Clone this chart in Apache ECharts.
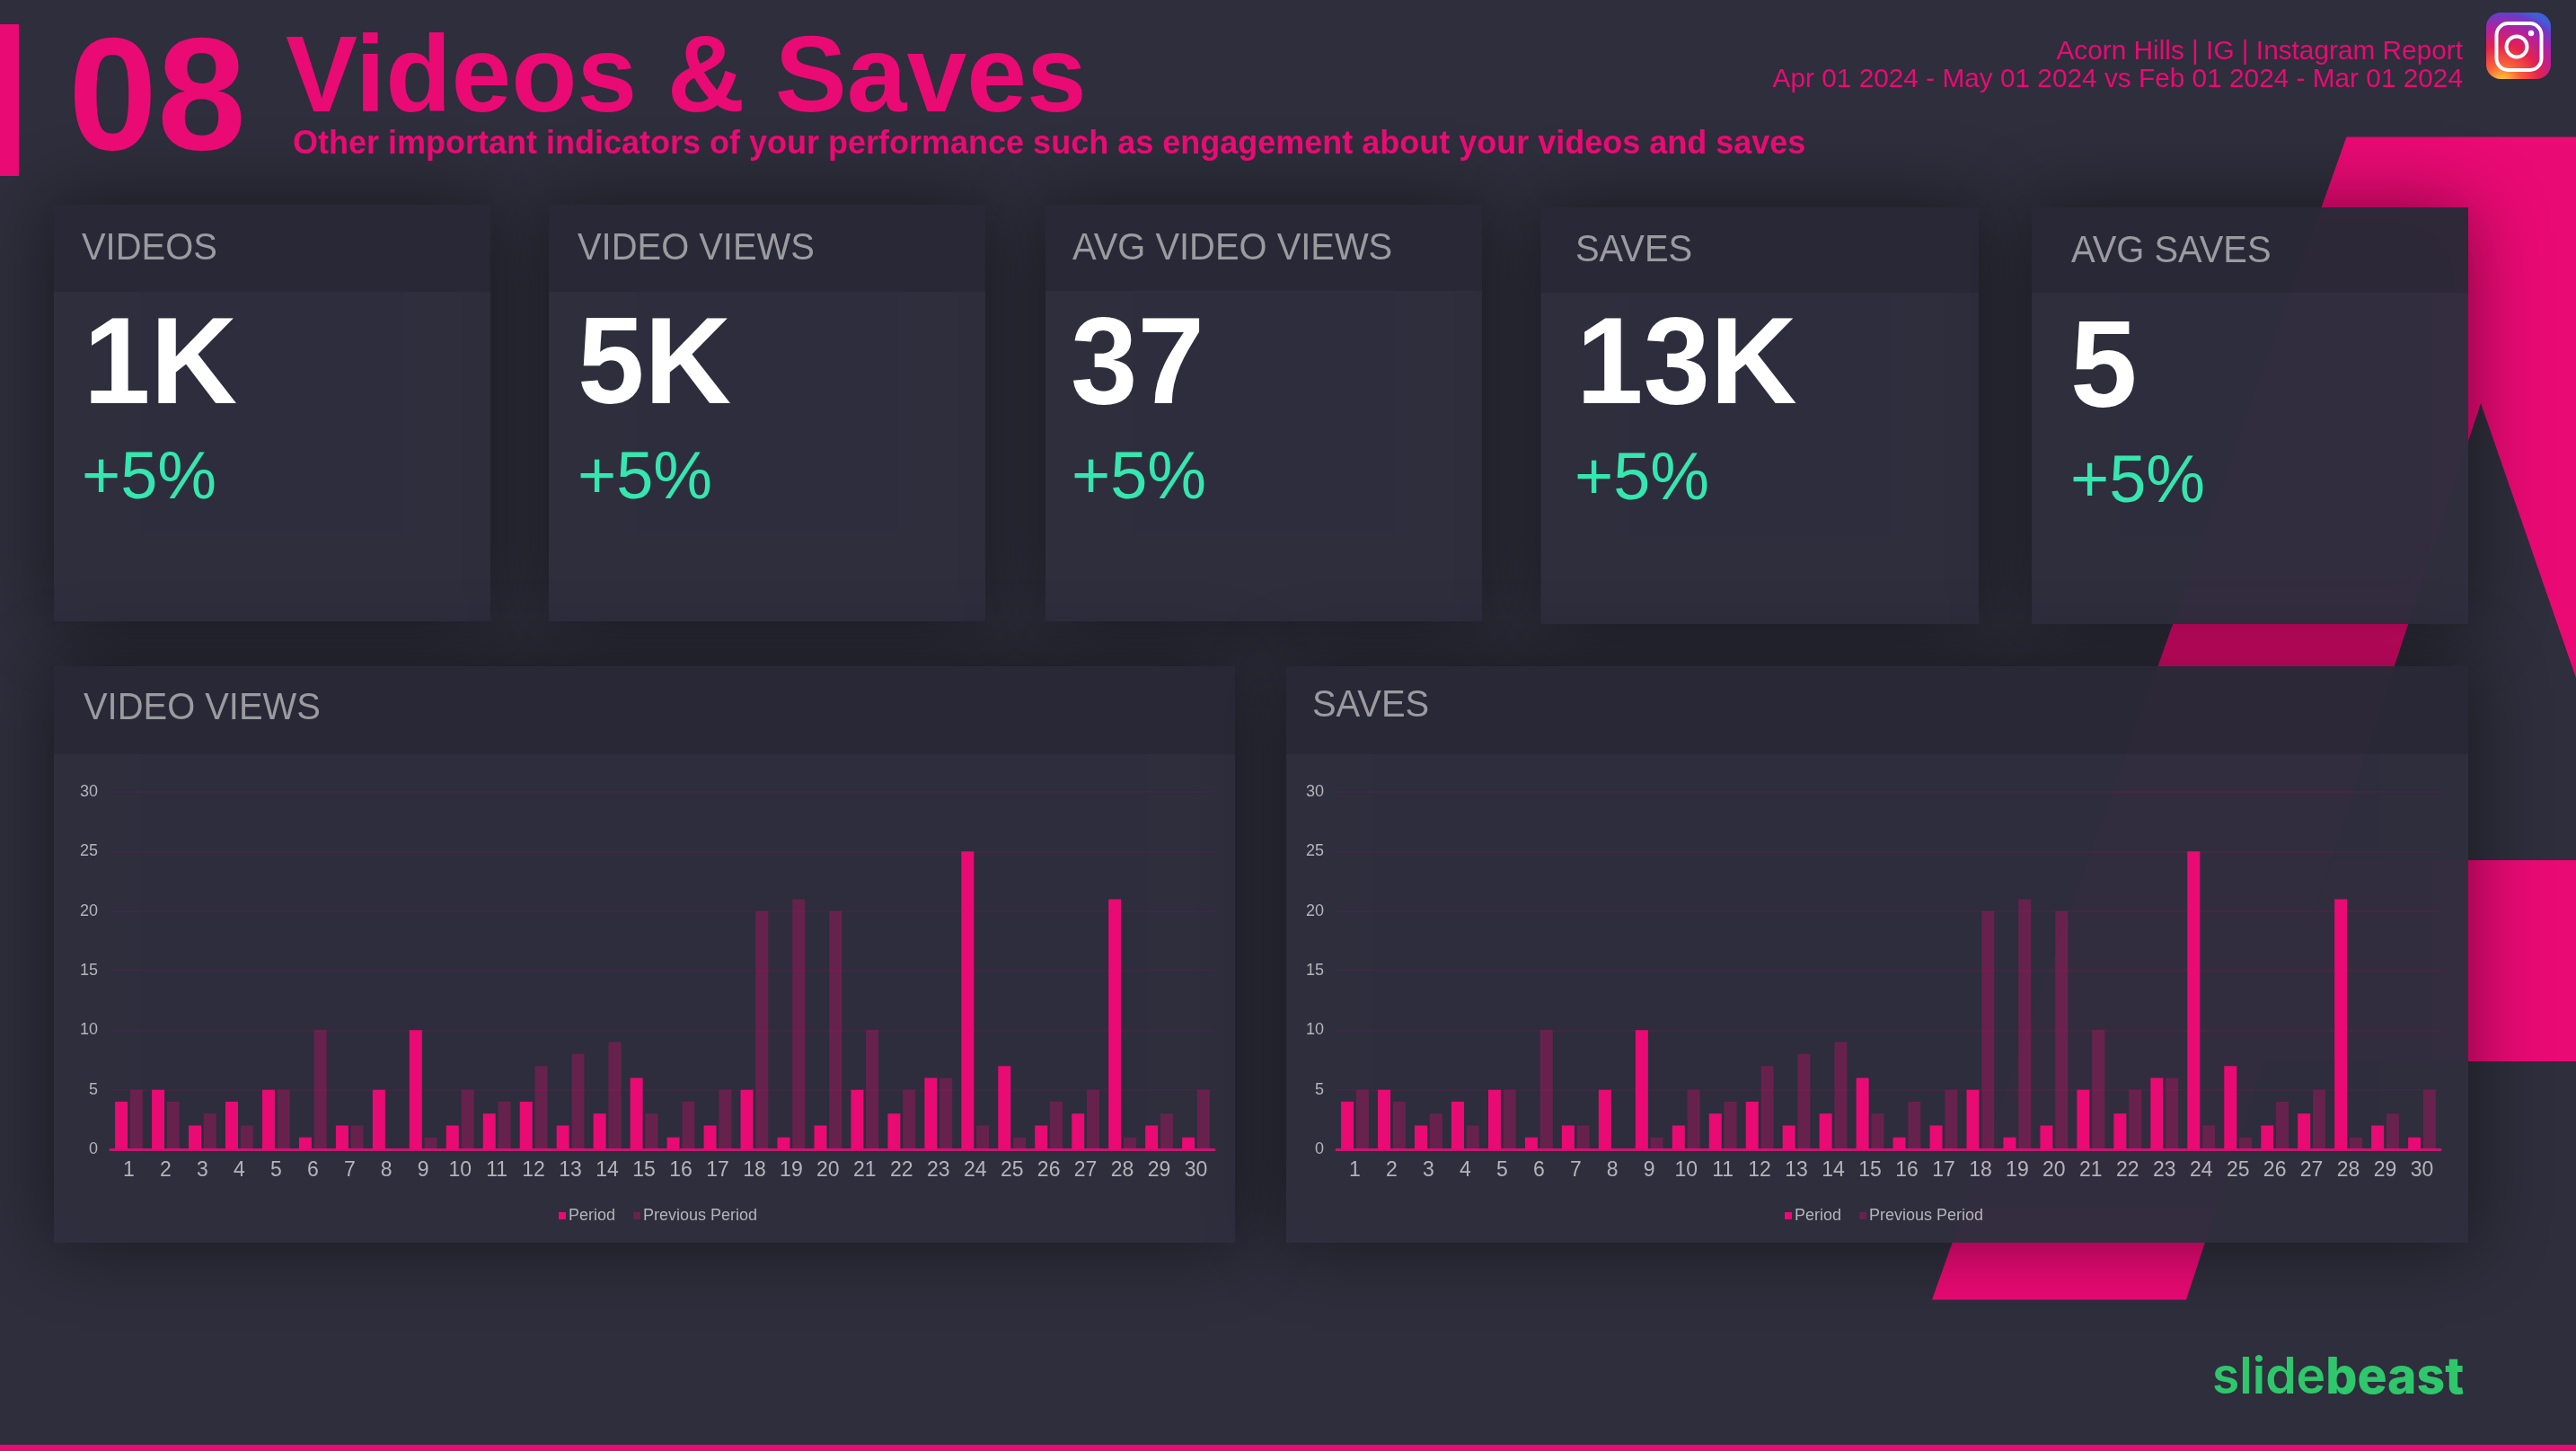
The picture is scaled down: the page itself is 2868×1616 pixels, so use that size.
<!DOCTYPE html>
<html><head><meta charset="utf-8">
<style>html,body{margin:0;padding:0;background:#2e2e3c}#c{width:2868px;height:1616px}</style>
<script src="https://cdn.jsdelivr.net/npm/echarts@6/dist/echarts.min.js"></script>
</head><body><div id="c"></div>
<script>
const days = ['1','2','3','4','5','6','7','8','9','10','11','12','13','14','15','16','17','18','19','20','21','22','23','24','25','26','27','28','29','30'];
const viewsPeriod = [4,5,2,4,5,1,2,5,10,2,3,4,2,3,6,1,2,5,1,2,5,3,6,25,7,2,3,21,2,1];
const viewsPrevious = [5,4,3,2,5,10,2,0,1,5,4,7,8,9,3,4,5,20,21,20,10,5,6,2,1,4,5,1,3,5];
const savesPeriod = [4,5,2,4,5,1,2,5,10,2,3,4,2,3,6,1,2,5,1,2,5,3,6,25,7,2,3,21,2,1];
const savesPrevious = [5,4,3,2,5,10,2,0,1,5,4,7,8,9,3,4,5,20,21,20,10,5,6,2,1,4,5,1,3,5];
const seriesNames = ['Period','Previous Period'];
const kpiTitles = ['VIDEOS','VIDEO VIEWS','AVG VIDEO VIEWS','SAVES','AVG SAVES'];
const kpiValues = ['1K','5K','37','13K','5'];
const kpiDeltas = ['+5%','+5%','+5%','+5%','+5%'];

const PINK='#ea0a74', BG='#2e2e3c', FONT='"Liberation Sans"';
const g=[];
function poly(points,fill,z){g.push({type:'polygon',z:z||-20,silent:true,shape:{points},style:{fill}});}
function panel(x,y,x2,y2,yh){
  g.push({type:'rect',z:-15,silent:true,shape:{x,y,width:x2-x,height:y2-y},
    style:{fill:'rgba(47,47,62,0.96)',shadowBlur:80,shadowColor:'rgba(0,0,0,0.5)'}});
  g.push({type:'rect',z:-14,silent:true,shape:{x,y,width:x2-x,height:yh-y},style:{fill:'rgba(25,22,32,0.2)'}});
}
function txt(text,x,y,font,fill,align,sx){
  g.push({type:'text',z:10,silent:true,x,y,scaleX:sx||1,style:{text,x:0,y:0,font,fill,align:align||'left',verticalAlign:'middle',textAlign:align||'left',textVerticalAlign:'middle'}});
}
// backdrop shapes
poly([[2612.5,152.4],[2868,152.4],[2868,755],[2762,449],[2434,1447.5],[2151,1447.5]],PINK);
poly([[2597,958],[2868,958],[2868,1182],[2521,1182]],PINK);
// header
g.push({type:'rect',z:-12,silent:true,shape:{x:0,y:27,width:21,height:169},style:{fill:PINK}});
txt('08',76,117,`bold 178px ${FONT}`,PINK);
txt('Videos & Saves',318,91,`bold 120px ${FONT}`,PINK);
txt('Other important indicators of your performance such as engagement about your videos and saves',326,161,`bold 36px ${FONT}`,PINK);
txt('Acorn Hills | IG | Instagram Report',2742,58,`30px ${FONT}`,PINK,'right',0.993);
txt('Apr 01 2024 - May 01 2024 vs Feb 01 2024 - Mar 01 2024',2742,89,`30px ${FONT}`,PINK,'right',0.993);
// KPI cards: left, right, top, bottom, header bottom
const cards=[[60,546,228,692,325],[611,1097,228,692,325],[1164,1650,228,692,324],[1715.5,2203,231,695,326],[2262,2748,231,695,326]];
const tx=[91,643,1194,1754,2306], vx=[93,643,1192,1755,2305], dx=[91,643,1193,1753,2305];
const ty=[277.5,277.5,277.5,279,280.5], vy=[411,411,411,411,415], dy=[535,535,535,536,539];
cards.forEach((c,i)=>{
  panel(c[0],c[2],c[1],c[3],c[4]);
  txt(kpiTitles[i],tx[i],ty[i],`42px ${FONT}`,'#9b9b9f','left',0.95);
  txt(kpiValues[i],vx[i],vy[i],`bold 138px ${FONT}`,'#ffffff','left',0.97);
  txt(kpiDeltas[i],dx[i],dy[i],`74px ${FONT}`,'#35e6ae');
});
// chart panels
panel(60,742,1375,1384,840);
panel(1432,742,2748,1384,840);
txt('VIDEO VIEWS',93,789.5,`42px ${FONT}`,'#9b9b9f','left',0.95);
txt('SAVES',1461,786.5,`42px ${FONT}`,'#9b9b9f','left',0.95);
// instagram icon
g.push({type:'rect',z:10,silent:true,shape:{x:2768,y:14,width:72,height:74,r:16},style:{fill:{type:'radial',x:0.25,y:1.05,r:1.15,colorStops:[{offset:0,color:'#fdd835'},{offset:.25,color:'#f9603a'},{offset:.5,color:'#e3224f'},{offset:.72,color:'#b81f9a'},{offset:.92,color:'#6a3cc8'},{offset:1,color:'#3f5fd6'}]}}});
g.push({type:'rect',z:11,silent:true,shape:{x:2779.5,y:26,width:50,height:52,r:13},style:{fill:'none',stroke:'#fff',lineWidth:4}});
g.push({type:'circle',z:11,silent:true,shape:{cx:2802,cy:52,r:11.5},style:{fill:'none',stroke:'#fff',lineWidth:4}});
g.push({type:'circle',z:11,silent:true,shape:{cx:2818,cy:37,r:3.2},style:{fill:'#fff'}});
// wordmark
g.push({type:'text',z:10,silent:true,x:2463,y:1563,scaleX:0.985,style:{text:'{a|slide}{b|beast}',x:0,y:0,align:'left',verticalAlign:'bottom',textAlign:'left',textVerticalAlign:'bottom',
  rich:{a:{font:`600 56px Inter`,fill:'#2fc76c',textFill:'#2fc76c',color:'#2fc76c'},b:{font:`800 56px Inter`,fill:'#2fc76c',textFill:'#2fc76c',color:'#2fc76c'}}}});
// bottom bar
g.push({type:'rect',z:-12,silent:true,shape:{x:0,y:1609,width:2868,height:7},style:{fill:PINK}});

function xAxis(i){return {type:'category',gridIndex:i,data:days,axisTick:{show:false},
  axisLine:{lineStyle:{color:'#c2196f',width:3}},
  axisLabel:{color:'#b4b4b8',fontFamily:FONT,fontSize:23,margin:12,interval:0}};}
function yAxis(i){return {type:'value',gridIndex:i,min:0,max:30,interval:5,axisLine:{show:false},axisTick:{show:false},
  splitLine:{lineStyle:{color:'rgba(234,10,116,0.13)',width:1.5}},
  axisLabel:{color:'#b4b4b8',fontFamily:FONT,fontSize:18,margin:14}};}
function bars(name,data,i,color){return {type:'bar',name,data,xAxisIndex:i,yAxisIndex:i,barWidth:14,barGap:'20%',itemStyle:{color},legendHoverLink:false,silent:true};}
function legend(left){return {data:seriesNames,left,top:1340,itemWidth:8,itemHeight:8,itemGap:20,icon:'rect',selectedMode:false,
  textStyle:{color:'#b4b4b8',fontFamily:FONT,fontSize:18,padding:[0,0,0,-2]}};}
const chart=echarts.init(document.getElementById('c'),null,{renderer:'canvas'});
chart.setOption({
  animation:false,backgroundColor:BG,
  grid:[{left:123,right:2868-1352,top:882,bottom:1616-1280},{left:1488,right:2868-2717,top:882,bottom:1616-1280}],
  xAxis:[xAxis(0),xAxis(1)],yAxis:[yAxis(0),yAxis(1)],
  legend:[legend(617),legend(1982)],
  series:[bars(seriesNames[0],viewsPeriod,0,PINK),bars(seriesNames[1],viewsPrevious,0,'rgba(234,10,116,0.3)'),
          bars(seriesNames[0],savesPeriod,1,PINK),bars(seriesNames[1],savesPrevious,1,'rgba(234,10,116,0.3)')],
  graphic:{elements:g}
});
</script></body></html>
